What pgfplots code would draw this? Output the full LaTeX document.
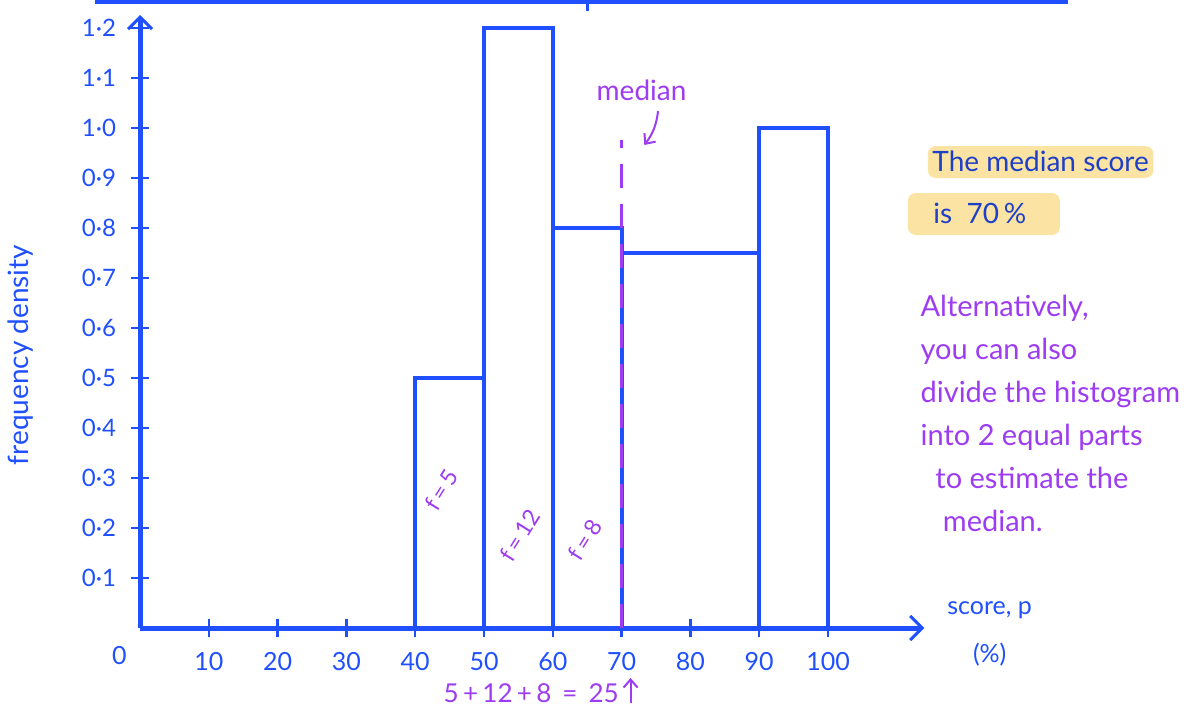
\documentclass[border=0pt]{standalone}
\usepackage{pgfplots}
\pgfplotsset{compat=1.18}
\usepackage{fontspec}
\setmainfont{Lato}
\usetikzlibrary{arrows.meta}
\definecolor{hb}{HTML}{1F4FFF}
\definecolor{pu}{HTML}{9D3CF0}
\definecolor{db}{HTML}{1E3FC8}
\definecolor{hl}{HTML}{FBE3A3}
\begin{document}
\begin{tikzpicture}
\begin{axis}[
  x=3.44pt, y=250pt,
  xmin=0, xmax=114, ymin=0, ymax=1.226,
  axis lines=left,
  axis line style={hb, line width=2.5pt, -{Straight Barb[length=6pt,width=12pt,line width=1.5pt]}},
  clip=false,
  /pgf/number format/assume math mode=true,
  xtick={10,20,30,40,50,60,70,80,90,100},
  ytick={0.1,0.2,0.3,0.4,0.5,0.6,0.7,0.8,0.9,1.0,1.1,1.2},
  yticklabels={0·1,0·2,0·3,0·4,0·5,0·6,0·7,0·8,0·9,1·0,1·1,1·2},
  tick style={hb, line width=1.2pt},
  tick align=center, major tick length=9pt,
  xticklabel style={hb, font=\fontsize{12.5}{14}\selectfont, yshift=-4pt},
  yticklabel style={hb, font=\fontsize{12}{14}\selectfont, xshift=-4pt},
]
\addplot[ybar interval, draw=hb, line width=2pt, fill=none]
  coordinates {(40,0.5) (50,1.2) (60,0.8) (70,0.75) (90,1.0) (100,1.0)};
% median line
\addplot[pu, line width=1.5pt, dash pattern=on 12pt off 8pt] coordinates {(70,0) (70,0.976)};
\node[pu, font=\fontsize{14}{16}\selectfont] at (axis cs:72.9,1.076) {median};
\draw[pu, line width=1pt, -{Straight Barb[length=4pt,width=7pt]}] (axis cs:75.3,1.034) to[bend left=15] (axis cs:73.3,0.966);
% origin label
\node[hb, font=\fontsize{12.5}{14}\selectfont] at (axis cs:-3,-0.055) {0};
% f labels
\node[pu, rotate=58, inner sep=0pt, font=\fontsize{11.5}{13}\selectfont] at (axis cs:43.8,0.276) {f\,=\,5};
\node[pu, rotate=58, inner sep=0pt, font=\fontsize{11.5}{13}\selectfont] at (axis cs:55.2,0.186) {f\,=\,12};
\node[pu, rotate=58, inner sep=0pt, font=\fontsize{11.5}{13}\selectfont] at (axis cs:64.7,0.176) {f\,=\,8};
% sum
\node[pu, font=\fontsize{13}{15}\selectfont, anchor=east] at (axis cs:70.6,-0.13) {5\,+\,12\,+\,8 \,=\, 25};
\draw[pu, line width=1pt, -{Straight Barb[length=4pt,width=7pt]}] (axis cs:71.3,-0.15) -- (axis cs:71.3,-0.1);
% axis labels
\node[hb, rotate=90, font=\fontsize{14}{16}\selectfont] at (axis cs:-17.4,0.546) {frequency density};
\node[hb, font=\fontsize{12.5}{15}\selectfont] at (axis cs:123.5,0.036) {score, p};
\node[hb, font=\fontsize{12.5}{15}\selectfont] at (axis cs:123.5,-0.054) {(\%)};
% highlighted statement
\fill[hl, rounded corners=4pt] (axis cs:114.5,0.964) rectangle (axis cs:147.3,0.9);
\fill[hl, rounded corners=4pt] (axis cs:111.6,0.87) rectangle (axis cs:133.7,0.786);
\node[db, font=\fontsize{14}{16}\selectfont] at (axis cs:130.9,0.934) {The median score};
\node[db, font=\fontsize{14}{16}\selectfont, anchor=west] at (axis cs:114.3,0.83) {is \ 70\,\%};
% alternative note
\node[pu, font=\fontsize{14.5}{21.5}\selectfont, anchor=north west, align=left, inner sep=0pt] at (axis cs:113.4,0.666)
  {Alternatively,\\you can also\\divide the histogram\\into 2 equal parts\\\ \ to estimate the\\\ \ \ median.};
% top line
\draw[hb, line width=2.5pt] (axis cs:-6.54,1.254) -- (axis cs:134.9,1.254);
\draw[hb, line width=1.5pt] (axis cs:65,1.254) -- (axis cs:65,1.234);
\coordinate (bl) at (axis cs:-20.35,-0.162);
\coordinate (tr) at (axis cs:151.74,1.256);
\end{axis}
\pgfresetboundingbox
\useasboundingbox (bl) rectangle (tr);
\end{tikzpicture}
\end{document}
